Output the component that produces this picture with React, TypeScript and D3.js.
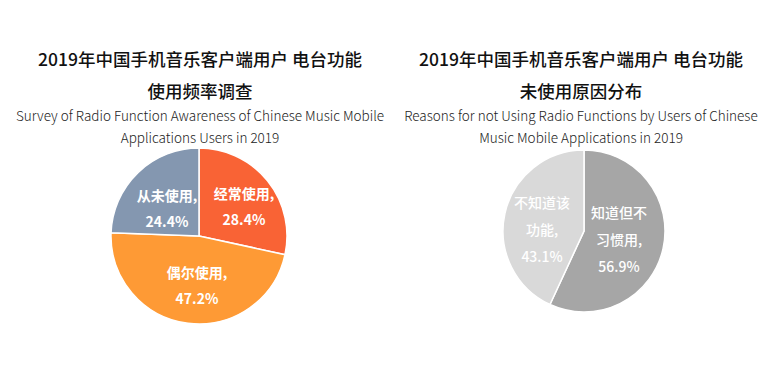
import React from "react";
import * as d3 from "d3";

const leftCategories = ["经常使用", "偶尔使用", "从未使用"];
const leftValues = [28.4, 47.2, 24.4];
const leftColors = ["#F96335", "#FE9A35", "#8497B0"];
const leftTitle = ["2019年中国手机音乐客户端用户 电台功能", "使用频率调查"];
const leftSubtitle = ["Survey of Radio Function Awareness of Chinese Music Mobile", "Applications Users in 2019"];

const rightCategories = ["知道但不习惯用", "不知道该功能"];
const rightValues = [56.9, 43.1];
const rightColors = ["#A6A6A6", "#D9D9D9"];
const rightTitle = ["2019年中国手机音乐客户端用户 电台功能", "未使用原因分布"];
const rightSubtitle = ["Reasons for not Using Radio Functions by Users of Chinese", "Music Mobile Applications in 2019"];

// label lines per slice (text wraps like the original)
const leftLabelLines = [["经常使用,", "28.4%"], ["偶尔使用,", "47.2%"], ["从未使用,", "24.4%"]];
const rightLabelLines = [["知道但不", "习惯用,", "56.9%"], ["不知道该", "功能,", "43.1%"]];

const FONT = "'Noto Sans CJK SC', 'Noto Sans', sans-serif";

type PieProps = {
  cx: number;
  cy: number;
  r: number;
  values: number[];
  colors: string[];
  labels: string[][];
  labelPos: [number, number][];
  lineGap: number;
  weight: number;
};

function Pie({ cx, cy, r, values, colors, labels, labelPos, lineGap, weight }: PieProps) {
  const pie = d3.pie<number>().sort(null).value((d) => d);
  const arcs = pie(values);
  const arc = d3.arc<d3.PieArcDatum<number>>().innerRadius(0).outerRadius(r);
  return (
    <g transform={`translate(${cx},${cy})`}>
      {arcs.map((a, i) => (
        <path key={i} d={arc(a) || ""} fill={colors[i]} stroke="#fff" strokeWidth={1.5} />
      ))}
      {labels.map((lines, i) => {
        const [lx, ly] = labelPos[i];
        const n = lines.length;
        return (
          <text
            key={"l" + i}
            x={lx}
            y={ly}
            textAnchor="middle"
            fill="#fff"
            fontFamily={FONT}
            fontWeight={weight}
            fontSize={14}
          >
            {lines.map((t, j) => (
              <tspan key={j} x={lx} y={ly + (j - (n - 1) / 2) * lineGap} dominantBaseline="central">
                {t}
              </tspan>
            ))}
          </text>
        );
      })}
    </g>
  );
}

function Titles({ cx, title, sub }: { cx: number; title: string[]; sub: string[] }) {
  return (
    <g>
      <text x={cx} y={58} textAnchor="middle" dominantBaseline="central" fontFamily={FONT} fontWeight={500} fontSize={17.5} fill="#111">
        {title[0]}
      </text>
      <text x={cx} y={90} textAnchor="middle" dominantBaseline="central" fontFamily={FONT} fontWeight={500} fontSize={17.5} fill="#111">
        {title[1]}
      </text>
      <text x={cx} y={115} textAnchor="middle" dominantBaseline="central" fontFamily={FONT} fontWeight={300} fontSize={13.5} fill="#222">
        {sub[0]}
      </text>
      <text x={cx} y={137} textAnchor="middle" dominantBaseline="central" fontFamily={FONT} fontWeight={300} fontSize={13.5} fill="#222">
        {sub[1]}
      </text>
    </g>
  );
}

export default function App() {
  return (
    <svg
      width={771}
      height={368}
      style={{ position: "absolute", left: 0, top: 0, background: "#fff" }}
    >
      <rect width={771} height={368} fill="#fff" />
      <Titles cx={200} title={leftTitle} sub={leftSubtitle} />
      <Titles cx={581} title={rightTitle} sub={rightSubtitle} />
      <Pie
        cx={199}
        cy={236}
        r={88}
        values={leftValues}
        colors={leftColors}
        labels={leftLabelLines}
        labelPos={[[45, -30], [-2, 49], [-32, -28]]}
        lineGap={26}
        weight={700}
      />
      <Pie
        cx={584}
        cy={231}
        r={81}
        values={rightValues}
        colors={rightColors}
        labels={rightLabelLines}
        labelPos={[[35, 8], [-42, -2]]}
        lineGap={27}
        weight={500}
      />
    </svg>
  );
}
